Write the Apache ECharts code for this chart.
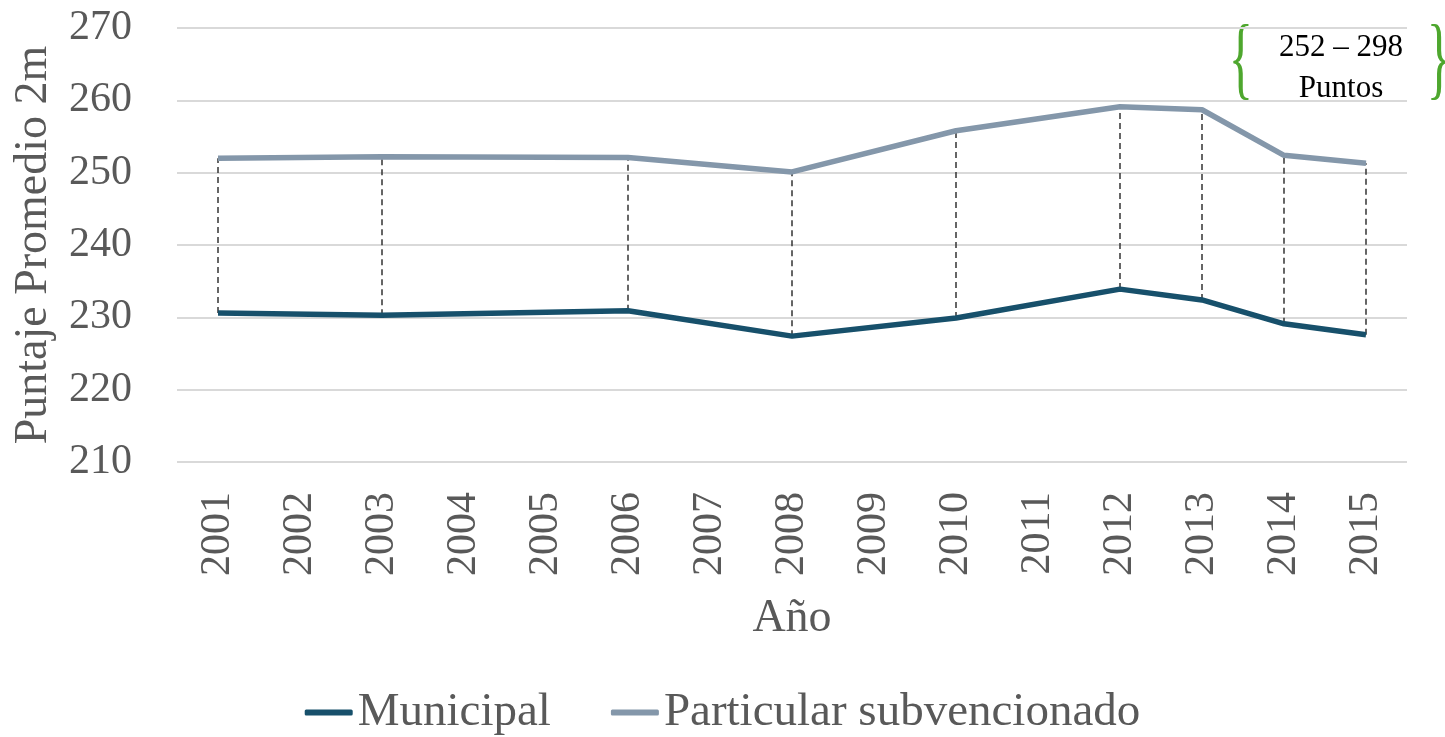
<!DOCTYPE html>
<html>
<head>
<meta charset="utf-8">
<script src="https://cdn.jsdelivr.net/npm/echarts@6/dist/echarts.min.js"></script>
<style>
  html, body { margin: 0; padding: 0; background: #fff; }
  #chart { width: 1445px; height: 737px; }
</style>
</head>
<body>
<div id="chart"></div>
<script>
var years = ['2001', '2002', '2003', '2004', '2005', '2006', '2007', '2008', '2009', '2010', '2011', '2012', '2013', '2014', '2015']
var municipal = [230.6, null, 230.3, null, null, 230.9, null, 227.4, null, 229.9, null, 233.9, 232.4, 229.1, 227.6]
var particular = [252.0, null, 252.2, null, null, 252.1, null, 250.1, null, 255.8, null, 259.1, 258.7, 252.4, 251.3]
var yTicks = [210, 220, 230, 240, 250, 260, 270]

var font = 'Liberation Serif'
var textColor = '#595959'

// pairs for the dashed connectors
var gaps = []
years.forEach(function(y, i) {
  if (municipal[i] != null && particular[i] != null) {
    gaps.push([i, municipal[i], particular[i]])
  }
})

var chart = echarts.init(document.getElementById('chart'))
chart.setOption({
  animation: false,
  grid: { left: 177, right: 38, top: 28, bottom: 275, outerBoundsMode: 'none', containLabel: false },
  legend: {
    bottom: -4,
    left: 'center',
    icon: 'roundRect',
    itemWidth: 48,
    itemHeight: 6,
    itemGap: 60,
    data: ['Municipal', 'Particular subvencionado'],
    textStyle: { fontFamily: font, fontSize: 47, color: textColor }
  },
  xAxis: {
    type: 'category',
    data: years,
    boundaryGap: true,
    name: 'Año',
    nameLocation: 'middle',
    nameGap: 134,
    nameTextStyle: { fontFamily: font, fontSize: 46, color: textColor },
    axisLine: { show: false },
    axisTick: { show: false },
    axisLabel: {
      rotate: 90,
      margin: 30,
      fontFamily: font,
      fontSize: 42,
      color: textColor
    }
  },
  yAxis: {
    type: 'value',
    min: yTicks[0],
    max: yTicks[yTicks.length - 1],
    interval: 10,
    name: 'Puntaje Promedio 2m',
    nameLocation: 'middle',
    nameGap: 120,
    nameTextStyle: { fontFamily: font, fontSize: 46, color: textColor },
    axisLabel: { margin: 45, fontFamily: font, fontSize: 42, color: textColor },
    splitLine: { lineStyle: { color: '#d9d9d9', width: 2 } }
  },
  series: [
    {
      type: 'custom',
      silent: true,
      z: 1,
      data: gaps,
      renderItem: function(params, api) {
        var a = api.coord([api.value(0), api.value(1)])
        var b = api.coord([api.value(0), api.value(2)])
        return {
          type: 'line',
          shape: { x1: a[0], y1: a[1], x2: b[0], y2: b[1] },
          style: { stroke: '#333', lineWidth: 1.5, lineDash: [6, 4] }
        }
      }
    },
    {
      name: 'Municipal',
      type: 'line',
      data: municipal,
      connectNulls: true,
      symbol: 'none',
      z: 3,
      lineStyle: { color: '#17506b', width: 5.5 },
      itemStyle: { color: '#17506b' }
    },
    {
      name: 'Particular subvencionado',
      type: 'line',
      data: particular,
      connectNulls: true,
      symbol: 'none',
      z: 3,
      lineStyle: { color: '#8497aa', width: 5.5 },
      itemStyle: { color: '#8497aa' }
    }
  ],
  graphic: [
    {
      type: 'text',
      x: 1241,
      y: 64,
      style: { text: '{', fontFamily: font, fontSize: 92, fill: '#4ea72e', align: 'center', verticalAlign: 'middle' },
      scaleX: 0.55
    },
    {
      type: 'text',
      x: 1439,
      y: 64,
      style: { text: '}', fontFamily: font, fontSize: 92, fill: '#4ea72e', align: 'center', verticalAlign: 'middle' },
      scaleX: 0.55
    },
    {
      type: 'text',
      x: 1341,
      y: 68,
      style: {
        text: '252 – 298\nPuntos',
        fontFamily: font,
        fontSize: 31,
        lineHeight: 41,
        fill: '#000',
        align: 'center',
        verticalAlign: 'middle'
      }
    }
  ]
})
</script>
</body>
</html>
